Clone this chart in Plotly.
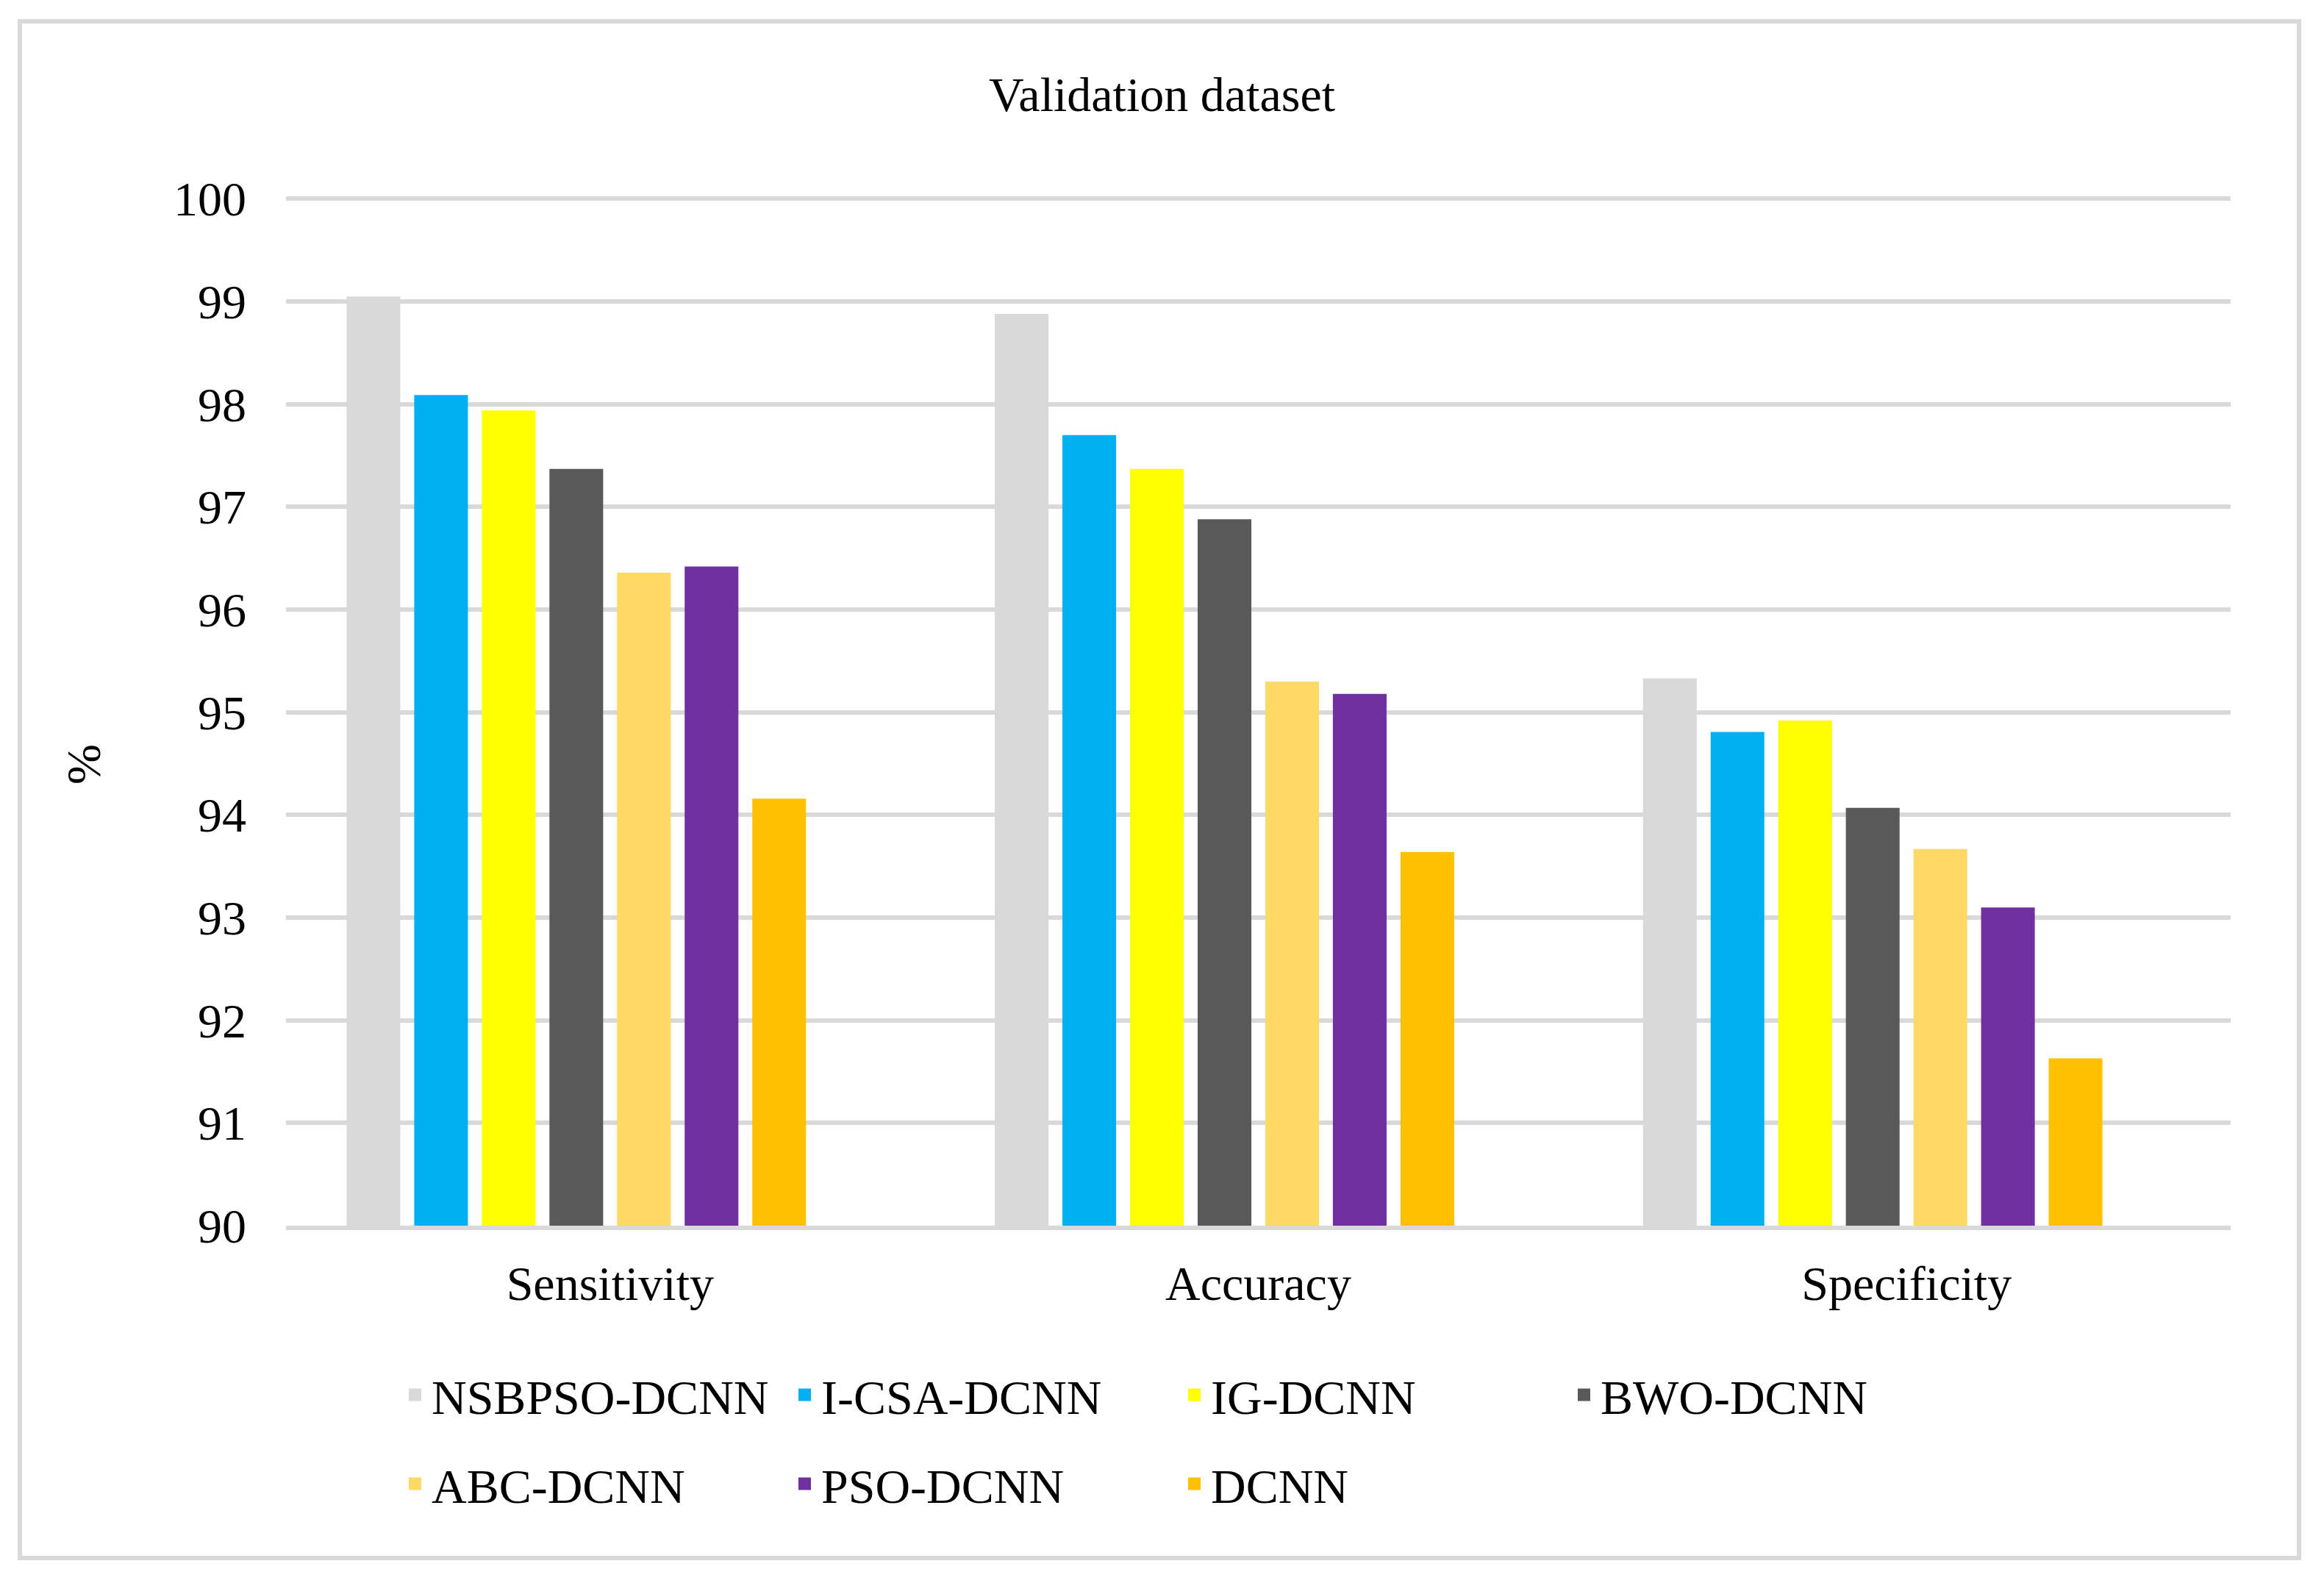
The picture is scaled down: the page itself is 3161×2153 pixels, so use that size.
import plotly.graph_objects as go

categories = ["Sensitivity", "Accuracy", "Specificity"]
series_names = ["NSBPSO-DCNN", "I-CSA-DCNN", "IG-DCNN", "BWO-DCNN", "ABC-DCNN", "PSO-DCNN", "DCNN"]
nsbpso = [99.03, 98.86, 95.31]
icsa = [98.07, 97.68, 94.79]
ig = [97.92, 97.35, 94.90]
bwo = [97.35, 96.86, 94.05]
abc = [96.34, 95.28, 93.65]
pso = [96.40, 95.16, 93.08]
dcnn = [94.14, 93.62, 91.61]
series_values = [nsbpso, icsa, ig, bwo, abc, pso, dcnn]
colors = ["#D9D9D9", "#00B0F0", "#FFFF00", "#595959", "#FFD966", "#7030A0", "#FFC000"]
y_ticks = [90, 91, 92, 93, 94, 95, 96, 97, 98, 99, 100]

# figure is 16 px smaller than the window to allow for the page's 8 px body margin
W, H = 3145, 2137
ML, MR, MT, MB = 381, 119, 258, 478
PW, PH = W - ML - MR, H - MT - MB
FONT = "Liberation Serif, Times New Roman, serif"
FS = 66

def px_x(x):
    return (x - ML) / PW

def px_y(y):
    return (H - MB - y) / PH

fig = go.Figure()
for i, (name, vals, col) in enumerate(zip(series_names, series_values, colors)):
    fig.add_trace(go.Bar(
        x=categories, y=vals, name=name,
        marker=dict(color=col, line=dict(color=col, width=5)),
        legend="legend" if i < 4 else "legend2",
    ))
# blank eighth series slot (as in the original chart)
fig.add_trace(go.Bar(x=categories, y=[None, None, None], showlegend=False,
                     marker=dict(color="rgba(0,0,0,0)")))

leg_common = dict(orientation="h", xanchor="left", yanchor="middle",
                  entrywidth=480, entrywidthmode="pixels", itemwidth=35,
                  bgcolor="rgba(0,0,0,0)", traceorder="normal",
                  font=dict(family=FONT, size=FS, color="black"))

fig.update_layout(
    width=W, height=H,
    margin=dict(l=ML, r=MR, t=MT, b=MB),
    paper_bgcolor="white", plot_bgcolor="white",
    barmode="group", bargap=0.1655, bargroupgap=0.26,
    font=dict(family=FONT, size=FS, color="black"),
    title=dict(text="Validation dataset", x=0.5, xref="container", xanchor="center",
               y=1 - 120 / H, yref="container", yanchor="middle",
               font=dict(family=FONT, size=FS, color="black")),
    xaxis=dict(range=[-0.5, 2.5], showgrid=False, showline=True, linecolor="#D9D9D9",
               linewidth=6, ticks="", ticklabelstandoff=16,
               tickfont=dict(family=FONT, size=FS, color="black")),
    yaxis=dict(range=[90, 100.03], tickvals=y_ticks, showgrid=True, gridcolor="#D9D9D9",
               gridwidth=6, showline=False, zeroline=False, ticks="",
               ticklabelstandoff=53,
               tickfont=dict(family=FONT, size=FS, color="black")),
    legend=dict(x=px_x(534), y=px_y(1889), **leg_common),
    legend2=dict(x=px_x(534), y=px_y(2010), **leg_common),
    annotations=[dict(text="%", xref="paper", yref="paper", x=px_x(105), y=px_y(1032),
                      showarrow=False, textangle=-90, xanchor="center", yanchor="middle",
                      font=dict(family=FONT, size=FS, color="black"))],
    shapes=[dict(type="rect", xref="paper", yref="paper",
                 x0=px_x(19), x1=px_x(3119), y0=px_y(2111), y1=px_y(21),
                 line=dict(color="#D9D9D9", width=6), fillcolor="rgba(0,0,0,0)", layer="below")],
)

fig.write_html("out.html")
